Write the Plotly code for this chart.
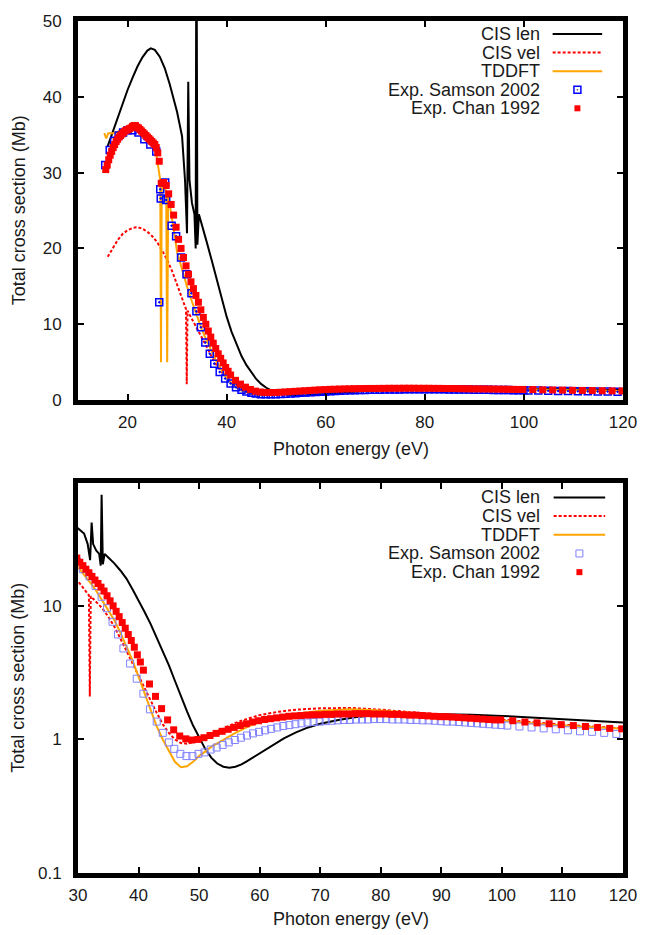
import plotly.graph_objects as go

# ---------------- data ----------------
cis_len_E = [16.0, 17.0, 18.0, 19.0, 20.0, 21.0, 22.0, 23.0, 24.0, 24.7, 25.5, 26.5, 27.5, 28.5, 29.3,
             30.0, 31.0, 31.6, 32.0, 32.25, 32.5, 33.0, 33.5, 33.75, 33.9, 34.1, 34.4, 35.0, 36.0, 37.0,
             38.0, 39.0, 40.0, 41.0, 42.0, 43.0, 44.0, 45.0, 46.0, 47.0, 48.0, 49.0, 50.0, 51.0, 52.0,
             53.0, 54.0, 55.0, 56.0, 57.0, 58.0, 60.0, 62.0, 64.0, 66.0, 68.0, 70.0, 73.0, 76.0, 80.0,
             85.0, 90.0, 95.0, 100.0, 105.0, 110.0, 115.0, 120.0]
cis_len = [33.5, 35.4, 37.3, 39.1, 40.9, 42.5, 44.0, 45.2, 46.1, 46.4, 46.2, 45.3, 43.8, 41.7, 39.5,
           38.0, 34.8, 29.0, 22.0, 42.0, 29.0, 26.0, 24.5, 20.0, 68.0, 20.5, 24.5, 23.0, 20.8, 18.4,
           16.0, 13.3, 11.0, 9.0, 7.3, 5.8, 4.6, 3.6, 2.75, 2.1, 1.62, 1.27, 1.03, 0.85, 0.73,
           0.66, 0.625, 0.615, 0.625, 0.65, 0.69, 0.79, 0.90, 1.02, 1.13, 1.23, 1.31, 1.40, 1.47, 1.53,
           1.56, 1.55, 1.53, 1.50, 1.46, 1.42, 1.38, 1.34]

cis_vel_E = [16.0, 17.0, 18.0, 19.0, 20.0, 21.0, 22.0, 23.0, 24.0, 25.0, 26.0, 27.0, 28.0, 29.0, 30.0,
             31.0, 31.8, 31.95, 32.1, 32.5, 33.0, 34.0, 35.0, 36.0, 37.0, 38.0, 39.0, 40.0, 41.0, 42.0,
             43.0, 44.0, 45.0, 46.0, 47.0, 48.0, 49.0, 50.0, 51.0, 52.0, 54.0, 56.0, 58.0, 60.0, 63.0,
             66.0, 70.0, 75.0, 80.0, 85.0, 90.0, 95.0, 100.0, 105.0, 110.0, 115.0, 120.0]
cis_vel = [18.9, 20.1, 21.1, 21.9, 22.4, 22.7, 22.8, 22.6, 22.2, 21.6, 20.8, 19.7, 18.5, 17.0, 15.3,
           13.5, 12.0, 2.1, 11.8, 11.3, 10.7, 9.6, 8.3, 7.0, 5.7, 4.6, 3.7, 2.95, 2.4, 1.95,
           1.58, 1.30, 1.12, 1.00, 0.94, 0.93, 0.95, 0.99, 1.04, 1.10, 1.21, 1.33, 1.43, 1.52, 1.61,
           1.67, 1.71, 1.72, 1.67, 1.60, 1.54, 1.47, 1.40, 1.34, 1.29, 1.25, 1.21]

tddft_E = [15.3, 15.7, 16.1, 17.0, 18.0, 19.0, 20.0, 21.0, 22.0, 23.0, 24.0, 25.0, 25.8, 26.3, 26.6,
           26.75, 26.9, 27.3, 27.8, 28.0, 28.2, 28.6, 29.0, 29.5, 30.0, 31.0, 32.0, 33.0, 34.0, 35.0,
           36.0, 37.0, 38.0, 39.0, 40.0, 41.0, 42.0, 43.0, 44.0, 45.0, 46.0, 47.0, 48.0, 49.0, 50.0,
           52.0, 54.0, 56.0, 58.0, 60.0, 63.0, 66.0, 70.0, 75.0, 80.0, 85.0, 90.0, 95.0, 100.0, 105.0,
           110.0, 115.0, 120.0]
tddft = [35.2, 34.5, 35.2, 35.2, 35.4, 35.7, 35.9, 36.0, 35.7, 35.0, 34.3, 33.6, 32.5, 30.5, 29.0,
         5.0, 28.8, 28.5, 27.5, 5.0, 27.0, 25.5, 24.0, 21.8, 19.5, 17.2, 15.0, 13.0, 11.0, 9.3,
         7.8, 6.3, 5.0, 3.9, 2.95, 2.2, 1.65, 1.25, 1.00, 0.82, 0.68, 0.62, 0.63, 0.68, 0.75,
         0.88, 1.00, 1.12, 1.24, 1.35, 1.47, 1.56, 1.64, 1.68, 1.65, 1.59, 1.52, 1.45, 1.38, 1.32,
         1.27, 1.23, 1.20]

samson_E = [15.5, 16.4, 17.3, 18.2, 19.1, 20.0, 21.0, 22.2, 23.4, 24.6, 25.8, 26.4, 26.6, 26.7, 27.6,
            27.8, 28.9, 29.8, 30.8, 31.9, 32.9, 33.9, 34.8, 35.7, 36.6, 37.5, 38.6, 39.7, 40.8, 41.9,
            43.0, 44.0, 45.0, 45.9, 46.9, 47.9, 48.9, 49.9, 50.9, 51.9, 52.9, 53.9, 54.9, 55.9, 56.9,
            57.9, 58.9, 59.9, 60.9, 61.9, 62.9, 63.9, 64.9, 65.9, 66.9, 67.9, 68.9, 69.9, 70.9, 71.9,
            72.9, 73.9, 74.9, 75.9, 76.9, 77.9, 78.9, 79.9, 80.9, 81.9, 82.9, 83.9, 84.9, 85.9, 86.9,
            87.9, 88.9, 89.9, 90.9, 91.9, 92.9, 93.9, 94.9, 95.9, 96.9, 97.9, 98.9, 99.9, 100.9, 102.9,
            104.9, 106.9, 108.9, 110.9, 112.9, 114.9, 116.9, 118.9]
samson = [31.0, 33.0, 34.2, 34.9, 35.3, 35.6, 35.6, 35.3, 34.4, 33.7, 32.8, 12.9, 27.8, 26.6, 28.7,
          26.4, 23.0, 21.6, 18.8, 16.6, 14.1, 11.7, 9.6, 7.6, 6.1, 4.8, 3.7, 2.85, 2.2, 1.68,
          1.36, 1.12, 0.95, 0.85, 0.78, 0.75, 0.75, 0.78, 0.80, 0.84, 0.87, 0.91, 0.95, 0.99, 1.03,
          1.07, 1.11, 1.14, 1.17, 1.20, 1.23, 1.26, 1.28, 1.30, 1.32, 1.34, 1.35, 1.36, 1.37, 1.38,
          1.39, 1.40, 1.40, 1.41, 1.41, 1.41, 1.42, 1.42, 1.42, 1.41, 1.41, 1.41, 1.40, 1.40, 1.39,
          1.39, 1.38, 1.37, 1.36, 1.36, 1.35, 1.34, 1.33, 1.32, 1.31, 1.30, 1.29, 1.28, 1.27, 1.25,
          1.23, 1.21, 1.19, 1.17, 1.15, 1.14, 1.12, 1.10]

chan_E = [15.6, 15.9, 16.2, 16.5, 16.8, 17.1, 17.4, 17.7, 18.0, 18.3, 18.6, 18.9, 19.2, 19.5, 19.8,
          20.1, 20.4, 20.7, 21.0, 21.3, 21.6, 21.9, 22.2, 22.5, 22.8, 23.1, 23.4, 23.7, 24.0, 24.3,
          24.6, 24.9, 25.2, 25.5, 25.8, 26.1, 26.4, 26.8, 27.3, 27.8, 28.3, 28.8, 29.3, 29.8, 30.3,
          30.8, 31.3, 31.8, 32.3, 32.8, 33.3, 33.8, 34.3, 34.8, 35.3, 35.8, 36.3, 36.8, 37.3, 37.8,
          38.3, 38.8, 39.3, 39.8, 40.3, 40.8, 41.8, 42.8, 43.8, 44.8, 45.8, 46.8, 47.8, 48.8, 49.8,
          50.8, 51.8, 52.8, 53.8, 54.8, 55.8, 56.8, 57.8, 58.8, 59.8, 60.8, 61.8, 62.8, 63.8, 64.8,
          65.8, 66.8, 67.8, 68.8, 69.8, 70.8, 71.8, 72.8, 73.8, 74.8, 75.8, 76.8, 77.8, 78.8, 79.8,
          80.8, 81.8, 82.8, 83.8, 84.8, 85.8, 86.8, 87.8, 88.8, 89.8, 90.8, 91.8, 92.8, 93.8, 94.8,
          95.8, 96.8, 97.8, 98.8, 99.8, 101.8, 103.8, 105.8, 107.8, 109.8, 111.8, 113.8, 115.8, 117.8,
          119.8]
chan = [30.4, 31.0, 31.7, 32.3, 32.8, 33.3, 33.7, 34.1, 34.4, 34.7, 34.9, 35.1, 35.3, 35.5, 35.6,
        35.7, 35.8, 35.9, 36.1, 36.2, 36.2, 36.0, 35.9, 35.7, 35.5, 35.3, 35.1, 34.9, 34.7, 34.5,
        34.3, 34.1, 33.9, 33.7, 33.3, 32.6, 31.5, 28.6, 28.7, 28.3, 27.2, 25.8, 24.4, 22.8, 21.2,
        20.0, 18.8, 17.7, 16.6, 15.6, 14.7, 13.8, 12.9, 11.9, 10.9, 10.0, 9.1, 8.3, 7.5, 6.8,
        6.1, 5.5, 4.9, 4.3, 3.8, 3.3, 2.6, 2.1, 1.7, 1.4, 1.18, 1.06, 1.01, 0.99, 1.00,
        1.03, 1.07, 1.11, 1.15, 1.19, 1.23, 1.27, 1.31, 1.35, 1.38, 1.41, 1.43, 1.45, 1.47, 1.49,
        1.50, 1.51, 1.52, 1.53, 1.53, 1.54, 1.54, 1.55, 1.55, 1.55, 1.56, 1.56, 1.56, 1.55, 1.55,
        1.55, 1.54, 1.54, 1.53, 1.52, 1.52, 1.51, 1.50, 1.49, 1.48, 1.48, 1.47, 1.46, 1.45, 1.44,
        1.43, 1.42, 1.41, 1.40, 1.40, 1.38, 1.35, 1.33, 1.31, 1.29, 1.27, 1.25, 1.23, 1.21,
        1.20]

legend_names = ["CIS len", "CIS vel", "TDDFT", "Exp. Samson 2002", "Exp. Chan 1992"]
top_xticks = [20, 40, 60, 80, 100, 120]
top_yticks = [0, 10, 20, 30, 40, 50]
bot_xticks = [30, 40, 50, 60, 70, 80, 90, 100, 110, 120]
bot_yticks = [0.1, 1, 10]
bot_yticktext = ["0.1", "1", "10"]

# ---------------- style ----------------
W, H = 649, 935
ML, MR, MT, MB = 78, 21, 20, 62
PW = W - ML - MR
PH = H - MT - MB
FONT = "Liberation Sans, Arial, sans-serif"
TXT = "#1a1a1a"
RED = "#ff0000"
ORANGE = "#ffa500"
BLUE = "#0000ff"
LBLUE = "#8080ff"

def px(x):
    return (x - ML) / PW

def py(y):
    return (MT + PH - y) / PH

top_dom = [py(399.5), 1.0]
bot_dom = [0.0, py(482.5)]

fig = go.Figure()

for xa, ya, top in (("x", "y", True), ("x2", "y2", False)):
    fig.add_trace(go.Scatter(x=cis_len_E, y=cis_len, mode="lines", xaxis=xa, yaxis=ya,
                             line=dict(color="black", width=2), showlegend=False))
    fig.add_trace(go.Scatter(x=cis_vel_E, y=cis_vel, mode="lines", xaxis=xa, yaxis=ya,
                             line=dict(color=RED, width=2, dash="3px,2px"), showlegend=False))
    fig.add_trace(go.Scatter(x=tddft_E, y=tddft, mode="lines", xaxis=xa, yaxis=ya,
                             line=dict(color=ORANGE, width=2), showlegend=False))
    if top:
        fig.add_trace(go.Scatter(x=samson_E, y=samson, mode="markers", xaxis=xa, yaxis=ya,
                                 marker=dict(symbol="square-open-dot", size=7, color=BLUE,
                                             line=dict(width=1.5, color=BLUE)), showlegend=False))
        fig.add_trace(go.Scatter(x=chan_E, y=chan, mode="markers", xaxis=xa, yaxis=ya,
                                 marker=dict(symbol="square", size=7, color=RED,
                                             line=dict(width=0)), showlegend=False))
    else:
        fig.add_trace(go.Scatter(x=samson_E, y=samson, mode="markers", xaxis=xa, yaxis=ya,
                                 marker=dict(symbol="square-open", size=7, color=LBLUE,
                                             line=dict(width=1, color=LBLUE)), showlegend=False))
        fig.add_trace(go.Scatter(x=chan_E, y=chan, mode="markers", xaxis=xa, yaxis=ya,
                                 marker=dict(symbol="square", size=7, color=RED,
                                             line=dict(width=0)), showlegend=False))

axis_common = dict(showline=True, linewidth=5, linecolor="black", mirror="allticks",
                   ticks="inside", ticklen=6, tickwidth=2, tickcolor="black",
                   showgrid=False, zeroline=False,
                   tickfont=dict(family=FONT, size=17, color=TXT))

fig.update_layout(
    width=W, height=H,
    margin=dict(l=ML, r=MR, t=MT, b=MB),
    paper_bgcolor="white", plot_bgcolor="white",
    showlegend=False,
    xaxis=dict(domain=[0, 1], anchor="y", range=[10, 120], tickvals=top_xticks,
               ticklabelstandoff=3, **axis_common),
    yaxis=dict(domain=top_dom, anchor="x", range=[0, 50], tickvals=top_yticks,
               ticklabelstandoff=8, **axis_common),
    xaxis2=dict(domain=[0, 1], anchor="y2", range=[30, 120], tickvals=bot_xticks,
                ticklabelstandoff=3, **axis_common),
    yaxis2=dict(domain=bot_dom, anchor="x2", type="log", range=[-1, 1.92],
                tickvals=bot_yticks, ticktext=bot_yticktext, ticklabelstandoff=8, **axis_common),
)

annotations = []
shapes = []
# axis titles
for xt_y, yt_y in ((449, 210), (919, 678)):
    annotations.append(dict(text="Photon energy (eV)", xref="paper", yref="paper",
                            x=px(353), y=py(xt_y), xanchor="center", yanchor="middle",
                            showarrow=False, font=dict(family=FONT, size=18, color=TXT)))
    annotations.append(dict(text="Total cross section (Mb)", xref="paper", yref="paper",
                            x=px(18), y=py(yt_y), xanchor="center", yanchor="middle",
                            textangle=-90, showarrow=False,
                            font=dict(family=FONT, size=18, color=TXT)))

# legends
for rows, lx0, lx1, mx, top in (([33, 51.6, 70.2, 88.8, 107.4], 557, 607, 582, True),
                                ([497, 515.7, 534.4, 553.1, 571.8], 558, 610, 584, False)):
    for name, ry in zip(legend_names, rows):
        annotations.append(dict(text=name, xref="paper", yref="paper", x=px(546), y=py(ry),
                                xanchor="right", yanchor="middle", showarrow=False,
                                font=dict(family=FONT, size=18, color=TXT)))
    line_styles = [dict(color="black", width=2), dict(color=RED, width=2, dash="3px,2px"),
                   dict(color=ORANGE, width=2)]
    for ls, ry in zip(line_styles, rows[:3]):
        shapes.append(dict(type="line", xref="paper", yref="paper", x0=px(lx0), x1=px(lx1),
                           y0=py(ry), y1=py(ry), line=ls))
    s = 3.5
    ry = rows[3]
    if top:
        shapes.append(dict(type="rect", xref="paper", yref="paper", x0=px(mx - s), x1=px(mx + s),
                           y0=py(ry - s), y1=py(ry + s), line=dict(color=BLUE, width=1.5)))
        shapes.append(dict(type="rect", xref="paper", yref="paper", x0=px(mx - 0.8), x1=px(mx + 0.8),
                           y0=py(ry - 0.8), y1=py(ry + 0.8), line=dict(width=0), fillcolor="#666"))
    else:
        shapes.append(dict(type="rect", xref="paper", yref="paper", x0=px(mx - s), x1=px(mx + s),
                           y0=py(ry - s), y1=py(ry + s), line=dict(color=LBLUE, width=1)))
    ry = rows[4]
    shapes.append(dict(type="rect", xref="paper", yref="paper", x0=px(mx - 3), x1=px(mx + 3),
                       y0=py(ry - 3), y1=py(ry + 3), line=dict(width=0), fillcolor=RED))

fig.update_layout(annotations=annotations, shapes=shapes)

fig.write_html("out.html")
